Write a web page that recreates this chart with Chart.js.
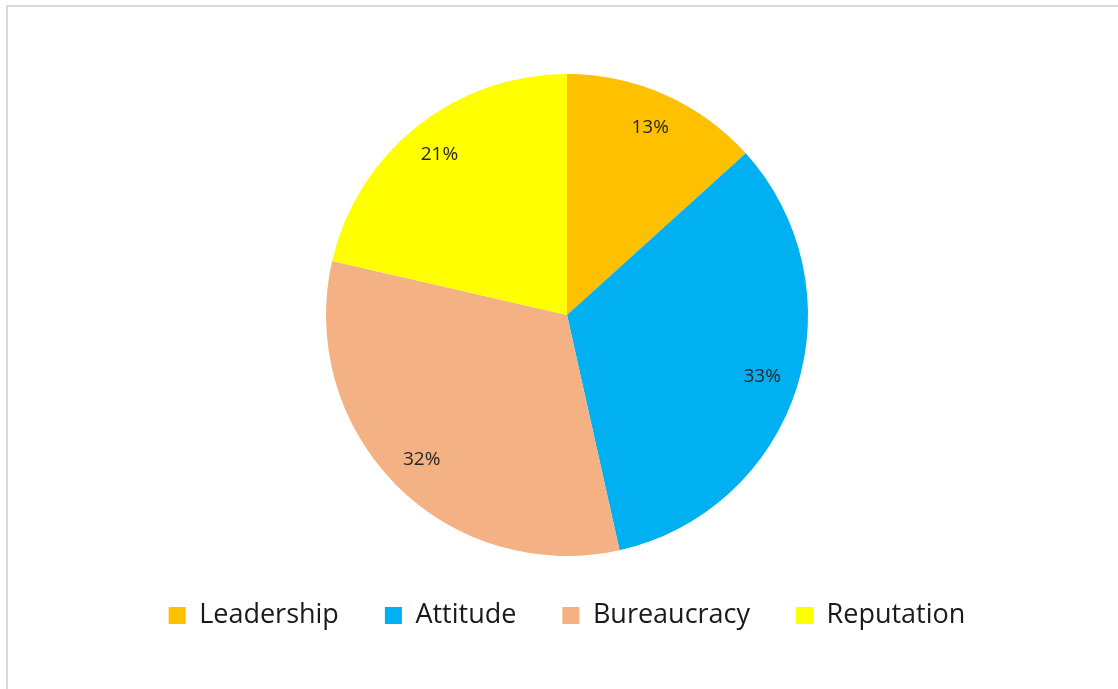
<!DOCTYPE html>
<html>
<head>
<meta charset="utf-8">
<script src="https://cdn.jsdelivr.net/npm/chart.js@4.4.1/dist/chart.umd.min.js"></script>
<style>
  html, body { margin: 0; padding: 0; background: #ffffff; }
  #frame {
    position: absolute; left: 6px; top: 5px;
    width: 1130px; height: 700px;
    border: 2px solid #d9d9d9; box-sizing: border-box;
  }
  #wrap { position: absolute; left: 0; top: 0; width: 1118px; height: 689px; }
</style>
</head>
<body>
<div id="frame"></div>
<div id="wrap"><canvas id="pieChart" width="1118" height="689"></canvas></div>
<script>
const categories = ["Leadership", "Attitude", "Bureaucracy", "Reputation"];
const shares = [13.3, 33.2, 32.1, 21.4];
const sliceColors = ["#FFC000", "#00B0F0", "#F4B183", "#FFFF00"];

// percentage labels inside each slice
const sliceLabels = {
  id: "sliceLabels",
  afterDatasetsDraw(chart) {
    const ctx = chart.ctx;
    const meta = chart.getDatasetMeta(0);
    const total = shares.reduce((a, b) => a + b, 0);
    ctx.save();
    ctx.font = "19px 'Open Sans', sans-serif";
    ctx.fillStyle = "#262626";
    ctx.textAlign = "center";
    ctx.textBaseline = "middle";
    meta.data.forEach((arc, i) => {
      const mid = (arc.startAngle + arc.endAngle) / 2;
      const r = arc.outerRadius * 0.85;
      const x = arc.x + Math.cos(mid) * r;
      const y = arc.y + Math.sin(mid) * r;
      ctx.fillText(Math.round(shares[i] / total * 100) + "%", x, y);
    });
    ctx.restore();
  }
};

const ctx = document.getElementById("pieChart").getContext("2d");
new Chart(ctx, {
  type: "pie",
  data: {
    labels: categories,
    datasets: [{
      data: shares,
      backgroundColor: sliceColors,
      borderWidth: 0
    }]
  },
  options: {
    responsive: false,
    animation: false,
    layout: {
      padding: { top: 74, left: 16, right: 0, bottom: 50 }
    },
    plugins: {
      tooltip: { enabled: false },
      legend: {
        position: "bottom",
        labels: {
          color: "#1a1a1a",
          boxWidth: 17,
          boxHeight: 17,
          padding: 46,
          font: { size: 27, family: "'Open Sans', sans-serif" }
        }
      }
    }
  },
  plugins: [sliceLabels]
});
</script>
</body>
</html>
